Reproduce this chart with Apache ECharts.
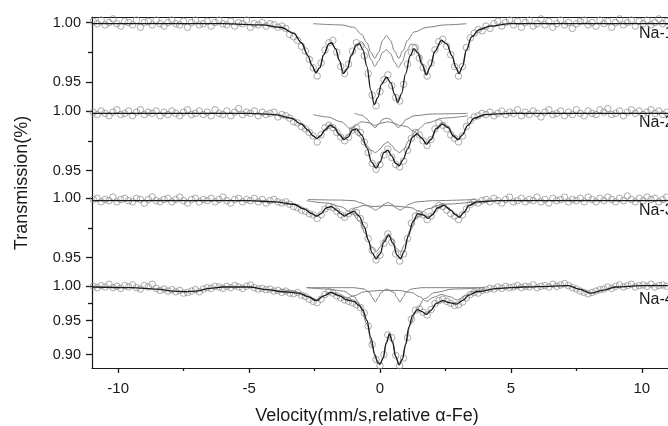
<!DOCTYPE html>
<html><head><meta charset="utf-8">
<script src="https://cdn.jsdelivr.net/npm/echarts@6/dist/echarts.min.js"></script>
<style>html,body{margin:0;padding:0;background:#fff}#c{width:668px;height:426px}</style>
</head><body><div id="c"></div>
<script>
// ---------- DATA ----------
const velocity = [-10.95,-10.8,-10.65,-10.5,-10.35,-10.2,-10.05,-9.9,-9.75,-9.6,-9.45,-9.3,-9.15,-9,-8.85,-8.7,-8.55,-8.4,-8.25,-8.1,-7.95,-7.8,-7.65,-7.5,-7.35,-7.2,-7.05,-6.9,-6.75,-6.6,-6.45,-6.3,-6.15,-6,-5.85,-5.7,-5.55,-5.4,-5.25,-5.1,-4.95,-4.8,-4.65,-4.5,-4.35,-4.2,-4.05,-3.9,-3.75,-3.6,-3.45,-3.3,-3.15,-3,-2.85,-2.7,-2.55,-2.4,-2.25,-2.1,-1.95,-1.8,-1.65,-1.5,-1.35,-1.2,-1.05,-0.9,-0.75,-0.6,-0.45,-0.3,-0.15,0,0.15,0.3,0.45,0.6,0.75,0.9,1.05,1.2,1.35,1.5,1.65,1.8,1.95,2.1,2.25,2.4,2.55,2.7,2.85,3,3.15,3.3,3.45,3.6,3.75,3.9,4.05,4.2,4.35,4.5,4.65,4.8,4.95,5.1,5.25,5.4,5.55,5.7,5.85,6,6.15,6.3,6.45,6.6,6.75,6.9,7.05,7.2,7.35,7.5,7.65,7.8,7.95,8.1,8.25,8.4,8.55,8.7,8.85,9,9.15,9.3,9.45,9.6,9.75,9.9,10.05,10.2,10.35,10.5,10.65,10.8,10.95];

const na1Data = [
1.001,0.999,1.002,0.998,1.000,1.003,0.999,0.997,1.001,1.000,
0.998,1.002,0.996,1.000,1.001,0.998,1.002,0.999,0.997,1.000,
1.002,0.999,0.998,1.001,0.996,1.000,1.002,0.998,0.999,1.001,
0.997,1.000,1.002,0.999,0.998,1.001,0.997,1.000,0.999,1.002,
0.996,0.999,0.998,1.000,0.997,0.999,0.998,0.996,0.997,0.995,
0.990,0.988,0.985,0.980,0.976,0.969,0.962,0.955,0.966,0.977,
0.983,0.985,0.975,0.963,0.957,0.965,0.976,0.983,0.980,0.972,
0.957,0.939,0.930,0.942,0.952,0.956,0.947,0.937,0.934,0.948,
0.965,0.975,0.979,0.970,0.962,0.955,0.966,0.977,0.984,0.986,
0.980,0.973,0.963,0.955,0.963,0.979,0.987,0.991,0.994,0.993,
0.997,0.995,0.999,1.001,0.997,1.000,1.002,0.998,1.001,0.996,
1.000,1.002,0.997,0.999,1.003,0.998,1.001,0.996,0.999,1.002,
0.998,1.000,0.995,0.999,1.001,1.002,0.998,1.000,0.997,1.002,
0.999,1.001,0.996,1.000,1.003,0.998,1.000,1.002,0.997,1.001,
0.999,1.002,0.998,1.000,1.003,0.999,1.001];

const na2Data = [
0.999,0.997,1.000,0.998,0.996,0.999,1.001,0.997,0.998,1.000,
0.996,0.999,1.001,0.997,0.999,0.998,1.000,0.996,0.999,0.997,
1.000,0.998,0.996,0.999,1.001,0.997,0.998,1.000,0.997,0.999,
0.996,1.001,0.998,0.997,1.000,0.996,0.999,1.002,0.997,0.999,
0.998,1.000,0.996,0.999,0.997,0.998,0.999,0.995,0.997,0.996,
0.994,0.991,0.990,0.987,0.985,0.982,0.979,0.974,0.980,0.986,
0.988,0.986,0.982,0.978,0.975,0.978,0.984,0.986,0.982,0.974,
0.965,0.956,0.951,0.955,0.963,0.968,0.961,0.955,0.953,0.958,
0.967,0.977,0.982,0.980,0.975,0.971,0.976,0.985,0.990,0.988,
0.985,0.980,0.977,0.974,0.979,0.987,0.992,0.995,0.996,0.998,
0.997,0.999,0.996,0.998,1.000,0.997,0.999,0.998,1.001,0.996,
0.999,0.997,1.000,0.998,0.995,0.999,1.001,0.997,0.998,1.000,
0.996,0.999,0.997,1.001,0.998,0.996,1.000,0.998,0.997,1.001,
0.999,1.002,0.997,0.998,1.000,0.996,0.999,1.001,0.998,1.000,
0.997,0.999,1.001,0.998,1.000,0.997,0.999];

const na3Data = [
0.999,1.000,0.997,0.999,0.998,1.001,0.997,0.999,1.000,0.998,
0.997,1.000,0.999,0.996,0.999,1.001,0.998,0.997,0.999,1.000,
0.997,0.999,1.001,0.998,0.996,0.999,1.000,0.997,0.999,0.998,
1.000,0.997,0.999,1.001,0.998,0.996,0.999,1.000,0.997,0.999,
0.998,1.000,0.997,0.999,0.996,0.998,0.999,0.997,0.996,0.997,
0.995,0.993,0.992,0.990,0.989,0.987,0.986,0.983,0.986,0.991,
0.993,0.992,0.989,0.986,0.984,0.987,0.989,0.988,0.983,0.977,
0.966,0.956,0.948,0.952,0.962,0.970,0.963,0.953,0.947,0.953,
0.966,0.979,0.985,0.987,0.986,0.982,0.985,0.991,0.994,0.993,
0.990,0.987,0.985,0.982,0.986,0.991,0.995,0.997,0.996,0.998,
0.999,0.997,1.000,0.998,0.996,0.999,1.001,0.997,0.998,1.000,
0.997,0.999,0.998,1.001,0.997,0.999,0.996,1.000,0.998,0.999,
1.001,0.997,0.999,0.998,1.000,0.997,1.001,0.999,0.997,1.000,
0.998,1.001,0.999,0.997,1.000,0.998,1.002,0.999,0.997,1.000,
0.998,1.001,0.999,1.000,0.997,0.999,1.001];

const na4Data = [
1.000,0.998,1.001,0.999,1.003,0.998,1.000,0.997,1.001,0.999,
1.002,0.998,0.996,1.001,0.999,1.003,0.997,0.994,0.996,0.993,
0.995,0.992,0.994,0.990,0.991,0.993,0.995,0.992,0.996,0.998,
0.997,1.000,0.999,0.997,1.000,0.998,1.001,0.999,0.997,1.000,
1.002,0.998,0.996,0.997,0.995,0.996,0.993,0.994,0.991,0.993,
0.990,0.989,0.991,0.987,0.985,0.981,0.978,0.976,0.981,0.988,
0.992,0.990,0.986,0.983,0.980,0.978,0.976,0.973,0.969,0.961,
0.942,0.915,0.893,0.884,0.900,0.929,0.925,0.899,0.884,0.895,
0.925,0.952,0.965,0.967,0.962,0.958,0.966,0.975,0.979,0.981,
0.978,0.975,0.972,0.973,0.977,0.983,0.988,0.991,0.990,0.994,
0.995,0.997,0.996,0.999,0.997,1.000,0.998,0.999,1.001,0.998,
1.000,0.999,1.002,0.998,1.000,1.001,0.999,1.003,1.000,1.002,
1.004,1.001,0.998,0.996,0.993,0.991,0.989,0.991,0.993,0.995,
0.996,0.999,0.997,1.000,1.002,0.999,1.001,1.003,0.999,1.001,
1.002,1.000,1.003,0.999,1.001,1.002,1.000];

// fitted envelopes and sub-spectra: [velocity, transmission]
const na1Fit = [[-11,0.999],[-6,0.999],[-4.5,0.998],[-3.8,0.996],[-3.3,0.991],[-3.0,0.983],[-2.75,0.972],[-2.6,0.964],[-2.45,0.958],[-2.3,0.962],[-2.15,0.973],[-1.95,0.982],[-1.85,0.983],[-1.7,0.978],[-1.55,0.968],[-1.4,0.957],[-1.25,0.961],[-1.1,0.972],[-0.9,0.981],[-0.78,0.982],[-0.65,0.977],[-0.5,0.963],[-0.35,0.943],[-0.22,0.931],[-0.08,0.937],[0.05,0.948],[0.25,0.954],[0.42,0.949],[0.55,0.940],[0.68,0.933],[0.82,0.940],[0.98,0.957],[1.15,0.972],[1.3,0.978],[1.45,0.974],[1.6,0.965],[1.77,0.956],[1.92,0.963],[2.1,0.976],[2.35,0.985],[2.55,0.982],[2.75,0.972],[2.9,0.962],[3.02,0.957],[3.15,0.963],[3.3,0.977],[3.5,0.988],[3.8,0.994],[4.2,0.997],[5,0.999],[11,0.999]];
const na1Sextet = [[-3.6,0.995],[-3.3,0.991],[-3.0,0.983],[-2.75,0.972],[-2.6,0.964],[-2.45,0.958],[-2.3,0.962],[-2.15,0.973],[-1.95,0.982],[-1.85,0.983],[-1.7,0.978],[-1.55,0.968],[-1.4,0.958],[-1.25,0.962],[-1.1,0.973],[-0.9,0.982],[-0.7,0.984],[-0.5,0.978],[-0.35,0.969],[-0.2,0.963],[-0.05,0.968],[0.1,0.975],[0.25,0.977],[0.4,0.974],[0.55,0.967],[0.7,0.962],[0.85,0.967],[1.0,0.976],[1.2,0.982],[1.35,0.981],[1.5,0.974],[1.63,0.965],[1.77,0.957],[1.92,0.963],[2.1,0.976],[2.35,0.985],[2.55,0.982],[2.75,0.972],[2.9,0.963],[3.02,0.958],[3.15,0.963],[3.3,0.977],[3.5,0.988],[3.8,0.994],[4.0,0.996]];
const na1Doublet = [[-2.55,0.999],[-1.5,0.998],[-1.0,0.996],[-0.7,0.990],[-0.5,0.983],[-0.35,0.975],[-0.2,0.970],[-0.05,0.975],[0.1,0.985],[0.25,0.989],[0.4,0.985],[0.55,0.976],[0.72,0.970],[0.87,0.976],[1.05,0.985],[1.3,0.992],[1.8,0.996],[2.5,0.998],[3.3,0.999]];

const na2Fit = [[-11,0.998],[-5,0.998],[-4,0.997],[-3.4,0.994],[-3.0,0.989],[-2.75,0.984],[-2.55,0.979],[-2.42,0.977],[-2.28,0.979],[-2.1,0.984],[-1.9,0.988],[-1.75,0.986],[-1.55,0.980],[-1.38,0.976],[-1.22,0.978],[-1.05,0.984],[-0.9,0.985],[-0.7,0.980],[-0.5,0.969],[-0.32,0.957],[-0.15,0.952],[0.0,0.957],[0.15,0.965],[0.3,0.967],[0.45,0.962],[0.6,0.956],[0.73,0.954],[0.88,0.959],[1.05,0.968],[1.25,0.978],[1.42,0.981],[1.6,0.977],[1.78,0.972],[1.95,0.976],[2.15,0.985],[2.38,0.989],[2.6,0.986],[2.8,0.979],[2.98,0.976],[3.15,0.980],[3.35,0.988],[3.6,0.994],[4.0,0.997],[5,0.998],[11,0.998]];
const na2Sextet = [[-3.6,0.995],[-3.4,0.994],[-3.0,0.989],[-2.75,0.984],[-2.55,0.979],[-2.42,0.977],[-2.28,0.979],[-2.1,0.985],[-1.9,0.989],[-1.75,0.987],[-1.55,0.981],[-1.38,0.977],[-1.22,0.980],[-1.0,0.987],[-0.7,0.991],[-0.4,0.990],[-0.2,0.988],[0.1,0.990],[0.3,0.991],[0.5,0.990],[0.75,0.988],[1.0,0.987],[1.3,0.983],[1.55,0.978],[1.78,0.973],[1.95,0.977],[2.15,0.986],[2.38,0.990],[2.6,0.987],[2.8,0.980],[2.98,0.976],[3.15,0.980],[3.35,0.988],[3.6,0.994],[4.0,0.997]];
const na2DoubletA = [[-0.97,0.998],[-0.7,0.9965],[-0.5,0.9935],[-0.35,0.989],[-0.19,0.986],[-0.05,0.989],[0.1,0.993],[0.25,0.994],[0.4,0.993],[0.55,0.989],[0.7,0.986],[0.85,0.989],[1.0,0.993],[1.3,0.996],[2.0,0.9975],[3.35,0.998]];
const na2DoubletB = [[-2.55,0.997],[-2.0,0.995],[-1.5,0.991],[-1.1,0.985],[-0.8,0.979],[-0.55,0.972],[-0.35,0.967],[-0.17,0.965],[0.0,0.968],[0.15,0.972],[0.3,0.974],[0.45,0.971],[0.6,0.967],[0.75,0.965],[0.9,0.968],[1.1,0.975],[1.4,0.984],[1.8,0.990],[2.4,0.994],[3.35,0.996]];

const na3Fit = [[-11,0.998],[-5,0.998],[-4,0.997],[-3.3,0.995],[-2.9,0.991],[-2.6,0.987],[-2.42,0.985],[-2.25,0.987],[-2.05,0.992],[-1.85,0.993],[-1.65,0.990],[-1.5,0.987],[-1.35,0.985],[-1.2,0.987],[-1.0,0.989],[-0.8,0.985],[-0.6,0.976],[-0.45,0.965],[-0.3,0.954],[-0.15,0.949],[0.0,0.953],[0.15,0.963],[0.33,0.969],[0.5,0.962],[0.65,0.952],[0.78,0.949],[0.92,0.955],[1.08,0.968],[1.25,0.980],[1.45,0.987],[1.65,0.986],[1.83,0.983],[2.0,0.986],[2.2,0.992],[2.45,0.994],[2.7,0.990],[2.9,0.986],[3.03,0.984],[3.2,0.988],[3.4,0.994],[3.7,0.997],[4.5,0.998],[11,0.998]];
const na3Sextet = [[-3.6,0.997],[-3.3,0.995],[-2.9,0.991],[-2.6,0.987],[-2.42,0.985],[-2.25,0.987],[-2.05,0.992],[-1.85,0.993],[-1.65,0.990],[-1.5,0.987],[-1.35,0.985],[-1.2,0.987],[-0.95,0.992],[-0.6,0.994],[-0.2,0.993],[0.3,0.994],[0.8,0.993],[1.2,0.992],[1.5,0.989],[1.68,0.986],[1.83,0.984],[2.0,0.987],[2.2,0.992],[2.45,0.994],[2.7,0.990],[2.9,0.986],[3.03,0.984],[3.2,0.988],[3.4,0.994],[3.7,0.997]];
const na3DoubletA = [[-2.75,0.999],[-1.5,0.9985],[-1.0,0.998],[-0.7,0.996],[-0.5,0.994],[-0.33,0.992],[-0.17,0.990],[0.0,0.992],[0.15,0.995],[0.3,0.9965],[0.45,0.995],[0.6,0.992],[0.77,0.990],[0.93,0.992],[1.1,0.995],[1.4,0.997],[2.0,0.998],[3.65,0.999]];
const na3DoubletB = [[-2.8,0.998],[-2.0,0.996],[-1.5,0.993],[-1.1,0.988],[-0.8,0.981],[-0.55,0.970],[-0.35,0.960],[-0.15,0.955],[0.05,0.960],[0.2,0.967],[0.33,0.970],[0.47,0.966],[0.62,0.958],[0.78,0.955],[0.95,0.961],[1.15,0.973],[1.4,0.984],[1.8,0.991],[2.4,0.995],[3.65,0.997]];

const na4Fit = [[-11,0.999],[-9.5,0.998],[-8.5,0.996],[-7.9,0.993],[-7.45,0.992],[-7.0,0.993],[-6.5,0.997],[-6.0,0.999],[-5.0,0.999],[-4.3,0.995],[-3.7,0.992],[-3.1,0.990],[-2.75,0.985],[-2.43,0.979],[-2.15,0.986],[-1.87,0.991],[-1.55,0.986],[-1.25,0.980],[-1.0,0.978],[-0.8,0.972],[-0.65,0.965],[-0.5,0.950],[-0.35,0.925],[-0.2,0.900],[-0.08,0.888],[0.0,0.886],[0.12,0.895],[0.24,0.917],[0.36,0.930],[0.48,0.918],[0.6,0.897],[0.73,0.885],[0.85,0.893],[0.98,0.915],[1.1,0.940],[1.25,0.958],[1.43,0.966],[1.6,0.963],[1.77,0.959],[1.95,0.965],[2.15,0.975],[2.4,0.979],[2.65,0.976],[2.92,0.974],[3.15,0.979],[3.4,0.987],[3.7,0.992],[4.5,0.997],[5.5,0.999],[6.5,1.000],[7.2,1.001],[7.6,0.996],[8.05,0.990],[8.5,0.994],[9.0,0.999],[10,1.001],[11,1.001]];
const na4Sextet = [[-3.8,0.996],[-3.3,0.993],[-2.9,0.988],[-2.65,0.983],[-2.43,0.980],[-2.2,0.985],[-1.95,0.991],[-1.75,0.990],[-1.5,0.986],[-1.25,0.983],[-1.0,0.986],[-0.6,0.992],[0.0,0.994],[0.7,0.994],[1.2,0.991],[1.5,0.985],[1.78,0.978],[2.05,0.984],[2.35,0.988],[2.65,0.985],[2.95,0.980],[3.25,0.986],[3.6,0.993],[4.0,0.996]];
const na4DoubletA = [[-2.8,0.998],[-1.0,0.998],[-0.6,0.996],[-0.4,0.991],[-0.3,0.984],[-0.18,0.977],[-0.06,0.984],[0.04,0.991],[0.25,0.996],[0.54,0.991],[0.64,0.984],[0.76,0.977],[0.88,0.984],[0.98,0.991],[1.2,0.996],[1.6,0.998],[4.0,0.998]];
const na4DoubletB = [[-2.8,0.998],[-2.0,0.996],[-1.4,0.993],[-1.0,0.985],[-0.75,0.972],[-0.5,0.945],[-0.3,0.912],[-0.15,0.893],[0.0,0.887],[0.12,0.896],[0.24,0.918],[0.36,0.932],[0.48,0.920],[0.6,0.898],[0.73,0.887],[0.86,0.895],[1.0,0.917],[1.15,0.944],[1.4,0.966],[1.7,0.982],[2.1,0.991],[2.8,0.996],[4.0,0.998]];

const sampleNames = ['Na-1','Na-2','Na-3','Na-4'];
const xMajorTicks = [-10,-5,0,5,10];
const xMinorTicks = [-7.5,-2.5,2.5,7.5];
const yMajorTicks = [[0.95,1.00],[0.95,1.00],[0.95,1.00],[0.90,0.95,1.00]];
const yMinorTicks = [[0.975],[0.975],[0.975],[0.925,0.975]];
const xTitle = 'Velocity(mm/s,relative \u03b1-Fe)';
const yTitle = 'Transmission(%)';

// ---------- LAYOUT ----------
const FONT = '"Liberation Sans", Arial, sans-serif';
const INK = '#1a1a1a';
const LEFT = 92, RIGHT = -9, TOP = 17, AXIS_Y = 368;
const panelLayout = [
  {one: 22.5, scale: 1190, top: 17, bot: 105, label: 34},
  {one: 111, scale: 1190, top: 105, bot: 193, label: 123},
  {one: 198.3, scale: 1185, top: 193, bot: 281, label: 211},
  {one: 286.3, scale: 684, top: 281, bot: 368, label: 300}
];
const panelData = [na1Data, na2Data, na3Data, na4Data];
const panelFits = [na1Fit, na2Fit, na3Fit, na4Fit];
const panelComps = [
  [na1Sextet, na1Doublet],
  [na2Sextet, na2DoubletA, na2DoubletB],
  [na3Sextet, na3DoubletA, na3DoubletB],
  [na4Sextet, na4DoubletA, na4DoubletB]
];

function tickAxis(base, values, len) {
  return Object.assign({}, base, {
    axisLine: {show: false, onZero: false},
    axisTick: {show: true, inside: false, length: len, customValues: values, lineStyle: {color: INK, width: 1.3}},
    axisLabel: {show: false}, splitLine: {show: false}
  });
}

const grids = [{left: LEFT, right: RIGHT, top: TOP, bottom: 426 - AXIS_Y}];
const xBase = {gridIndex: 0, type: 'value', min: -11, max: 11, position: 'bottom'};
const xAxes = [
  Object.assign({}, xBase, {
   axisLine: {show: true, onZero: false, lineStyle: {color: INK, width: 1.2}},
   axisTick: {show: false},
   axisLabel: {show: true, customValues: xMajorTicks, margin: 13, fontSize: 15, fontFamily: FONT, color: INK},
   splitLine: {show: false}}),
  tickAxis(xBase, xMajorTicks, 5),
  tickAxis(xBase, xMinorTicks, 3),
  {gridIndex: 0, type: 'value', min: -11, max: 11, position: 'top',
   axisLine: {show: true, onZero: false, lineStyle: {color: INK, width: 1.2}},
   axisTick: {show: false}, axisLabel: {show: false}, splitLine: {show: false}}
];
const yAxes = [
  {gridIndex: 0, type: 'value', min: 0, max: 1, position: 'left',
   axisLine: {show: true, onZero: false, lineStyle: {color: INK, width: 1.2}},
   axisTick: {show: false}, axisLabel: {show: false}, splitLine: {show: false}}
];
const series = [];
const graphics = [];

panelLayout.forEach((p, k) => {
  const g = k + 1;
  grids.push({left: LEFT, right: RIGHT, top: p.top, bottom: 426 - p.bot});
  const yMax = 1 + (p.one - p.top) / p.scale;
  const yMin = 1 - (p.bot - p.one) / p.scale;
  xAxes.push({gridIndex: g, type: 'value', min: -11, max: 11, show: false});
  const xi = xAxes.length - 1;
  const yBase = {gridIndex: g, type: 'value', min: yMin, max: yMax, position: 'left'};
  yAxes.push(Object.assign({}, yBase, {
    axisLine: {show: false, onZero: false},
    axisTick: {show: false},
    axisLabel: {show: true, customValues: yMajorTicks[k], margin: 11, fontSize: 14.5, fontFamily: FONT, color: INK,
      formatter: v => Number(v).toFixed(2)},
    splitLine: {show: false}}));
  const yi = yAxes.length - 1;
  yAxes.push(tickAxis(yBase, yMajorTicks[k], 6));
  yAxes.push(tickAxis(yBase, yMinorTicks[k], 4));

  series.push({type: 'scatter', xAxisIndex: xi, yAxisIndex: yi, clip: false, z: 2,
    symbol: 'circle', symbolSize: 6.5,
    itemStyle: {color: 'rgba(0,0,0,0)', borderColor: '#8a8a8a', borderWidth: 0.9},
    data: velocity.map((v, i) => [v, panelData[k][i]])});
  panelComps[k].forEach(c => {
    series.push({type: 'line', xAxisIndex: xi, yAxisIndex: yi, clip: false, z: 3,
      showSymbol: false, smooth: 0.35, smoothMonotone: 'x',
      lineStyle: {color: '#808080', width: 1}, data: c});
  });
  series.push({type: 'line', xAxisIndex: xi, yAxisIndex: yi, clip: false, z: 4,
    showSymbol: false, smooth: 0.35, smoothMonotone: 'x',
    lineStyle: {color: INK, width: 1.3}, data: panelFits[k]});

  graphics.push({type: 'text', x: 639, y: p.label,
    style: {text: sampleNames[k], font: '16px ' + FONT, fill: INK, textAlign: 'left', textVerticalAlign: 'middle'}});
});

graphics.push({type: 'text', x: 22, y: 183, rotation: Math.PI / 2,
  style: {text: yTitle, font: '18px ' + FONT, fill: INK, textAlign: 'center', textVerticalAlign: 'middle'}});
graphics.push({type: 'text', x: 367, y: 416,
  style: {text: xTitle, font: '18px ' + FONT, fill: INK, textAlign: 'center', textVerticalAlign: 'middle'}});

const chart = echarts.init(document.getElementById('c'), null, {renderer: 'canvas'});
chart.setOption({
  animation: false,
  backgroundColor: '#fff',
  grid: grids, xAxis: xAxes, yAxis: yAxes, series: series, graphic: graphics
});
</script></body></html>
